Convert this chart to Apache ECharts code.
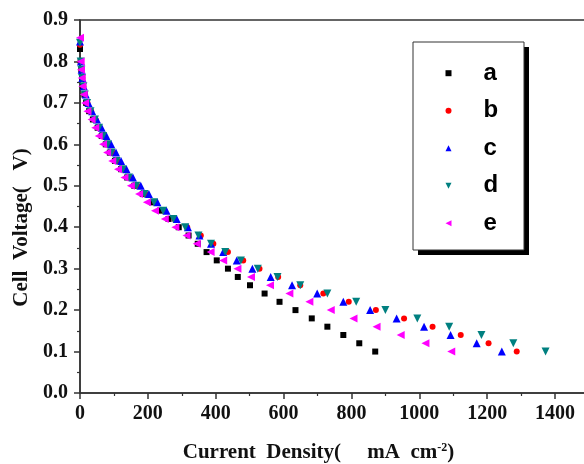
<!DOCTYPE html>
<html>
<head>
<meta charset="utf-8">
<script src="https://cdn.jsdelivr.net/npm/echarts@6/dist/echarts.min.js"></script>
<style>html,body{margin:0;padding:0;background:#fff}#c{width:584px;height:464px}</style>
</head>
<body>
<div id="c"></div>
<script>
// Voltage levels (V) shared by all series after the open-circuit point
const voltages = [0.80,0.78,0.76,0.74,0.72,0.70,0.68,0.66,0.64,0.62,0.60,0.58,0.56,0.54,0.52,0.50,0.48,0.46,0.44,0.42,0.40,0.38,0.36,0.34,0.32,0.30,0.28,0.26,0.24,0.22,0.20,0.18,0.16,0.14,0.12,0.10];
// open-circuit voltage per series (at 0 mA cm-2), order a..e
const seriesNames = ['a','b','c','d','e'];
const ocvVoltage = [0.830, 0.840, 0.848, 0.845, 0.857];
// current densities (mA cm-2) per voltage level
const currentA = [2,4,6,9,13,18,27,38,52,64,76,88,103,121,139,160,185,212,236,261,291,320,347,373,403,436,465,501,544,588,635,683,729,776,823,870];
const currentB = [2,4,7,10,15,22,33,46,58,71,84,96,111,128,147,169,193,222,249,278,316,356,393,436,481,529,584,649,717,792,872,955,1039,1122,1204,1287];
const currentC = [3,5,7,11,17,25,36,50,64,78,92,106,121,137,156,179,203,228,255,285,318,352,386,422,462,508,562,625,699,776,855,933,1014,1092,1169,1243];
const currentD = [2,4,6,10,14,21,31,44,56,68,82,93,108,126,144,166,190,218,245,275,310,349,386,428,474,524,582,649,729,814,900,994,1088,1183,1277,1372];
const currentE = [2,3,5,7,11,15,22,34,45,55,68,80,95,112,131,150,174,197,221,250,281,314,344,385,422,464,504,560,617,676,739,806,874,945,1018,1094];
const xTicks = [0,200,400,600,800,1000,1200,1400];
const yTicks = [0.0,0.1,0.2,0.3,0.4,0.5,0.6,0.7,0.8,0.9];

const currents = [currentA, currentB, currentC, currentD, currentE];
const colors = ['#000000','#ff0000','#0000ff','#008080','#ff00ff'];
const symbols = ['rect','circle','triangle','path://M0,0L10,0L5,10Z','path://M10,0L10,10L0,5Z'];
const sizes = [6,6,8,8,8];

function buildData(i){
  const d = [[0, ocvVoltage[i]]];
  currents[i].forEach((c, k) => d.push([c, voltages[k]]));
  return d;
}

const serif = 'Liberation Serif';
const chart = echarts.init(document.getElementById('c'), null, {renderer:'canvas'});
chart.setOption({
  animation: false,
  backgroundColor: '#fff',
  grid: {left: 80, top: 20, right: -5, bottom: 71, show: true, borderColor: '#333', borderWidth: 1.5, backgroundColor: 'transparent', outerBoundsMode: 'none'},
  xAxis: {
    type: 'value', min: 0, max: 1500, interval: 200,
    name: 'Current  Density(     mA  cm{sup|-2})',
    nameLocation: 'middle', nameGap: 49,
    nameTextStyle: {fontFamily: serif, fontWeight: 'bold', fontSize: 21, color: '#111', padding: [0, 32, 0, 0],
      rich: {sup: {fontFamily: serif, fontWeight: 'bold', fontSize: 12, color: '#111', padding: [0,0,10,0]}}},
    axisLine: {lineStyle: {color: '#333', width: 1.5}},
    axisTick: {show: true, inside: false, length: 6, lineStyle: {color: '#333', width: 1.5}},
    minorTick: {show: true, splitNumber: 2, length: 3, lineStyle: {color: '#333', width: 1.2}},
    splitLine: {show: false},
    axisLabel: {fontFamily: serif, fontWeight: 'bold', fontSize: 20, color: '#111', margin: 11, showMaxLabel: false,
      formatter: v => xTicks.indexOf(v) >= 0 ? String(v) : ''}
  },
  yAxis: {
    type: 'value', min: 0, max: 0.9, interval: 0.1,
    name: 'Cell  Voltage(   V)',
    nameLocation: 'middle', nameGap: 47,
    nameTextStyle: {fontFamily: serif, fontWeight: 'bold', fontSize: 21, color: '#111', padding: [0, 42, 0, 0], align: 'center'},
    nameRotate: 90,
    axisLine: {lineStyle: {color: '#333', width: 1.5}},
    axisTick: {show: true, inside: false, length: 6, lineStyle: {color: '#333', width: 1.5}},
    minorTick: {show: true, splitNumber: 2, length: 3, lineStyle: {color: '#333', width: 1.2}},
    splitLine: {show: false},
    axisLabel: {fontFamily: serif, fontWeight: 'bold', fontSize: 20, color: '#111', margin: 12,
      formatter: v => { const t = yTicks.find(y => Math.abs(y - v) < 1e-6); return t === undefined ? '' : t.toFixed(1); }}
  },
  graphic: [
    {type: 'rect', z: 3, shape: {x: 418, y: 47, width: 111, height: 208}, style: {fill: '#000'}},
    {type: 'rect', z: 3, shape: {x: 413, y: 42, width: 111, height: 208}, style: {fill: '#fff', stroke: '#333', lineWidth: 1}}
  ],
  legend: {
    orient: 'vertical', left: 445.5, top: 61.2, z: 5,
    padding: 0,
    itemWidth: 6, itemHeight: 6, itemGap: 13.5,
    textStyle: {fontFamily: 'Liberation Sans', fontWeight: 'bold', fontSize: 24, lineHeight: 24, color: '#000', padding: [0, 0, 0, 27]},
    data: seriesNames
  },
  series: seriesNames.map((n, i) => ({
    name: n, type: 'scatter', data: buildData(i),
    symbol: symbols[i], symbolSize: sizes[i],
    itemStyle: {color: colors[i], opacity: 1}
  }))
});
</script>
</body>
</html>
